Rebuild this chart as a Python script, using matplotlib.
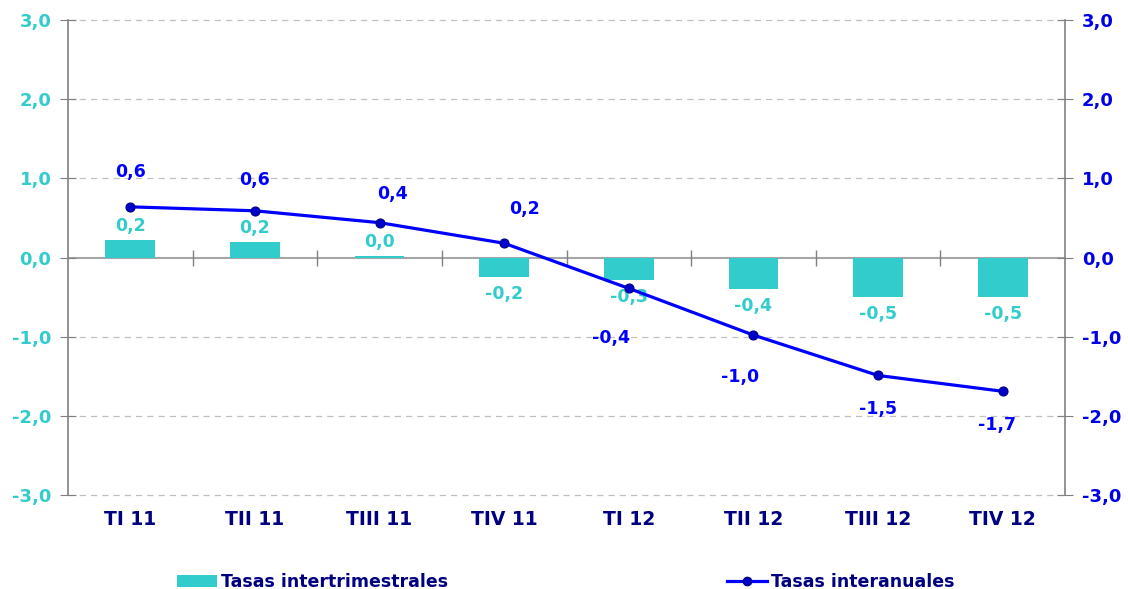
import matplotlib.pyplot as plt
from matplotlib.lines import Line2D
from matplotlib.patches import Patch

# datos
trimestres = ['TI 11', 'TII 11', 'TIII 11', 'TIV 11', 'TI 12', 'TII 12', 'TIII 12', 'TIV 12']
intertrimestrales = [0.22, 0.19, 0.02, -0.24, -0.29, -0.40, -0.50, -0.50]
interanuales = [0.64, 0.59, 0.44, 0.18, -0.39, -0.98, -1.49, -1.69]

TEAL = '#33CCCC'
BLUE = '#0000FF'
NAVY = '#000080'
GRID = '#C0C0C0'
AXC = '#808080'

plt.rcParams['font.family'] = ['DejaVu Sans']
plt.rcParams['font.weight'] = 'bold'

fig = plt.figure(figsize=(11.28, 5.89), dpi=100)
ax = fig.add_axes([68 / 1128, 1 - 495 / 589, (1065 - 68) / 1128, (495 - 20) / 589])
ax2 = ax.twinx()

x = list(range(len(trimestres)))

def fmt(v):
    return f'{v:.1f}'.replace('.', ',')

# rejilla
for t in [-3, -2, -1, 1, 2, 3]:
    ax.axhline(t, color=GRID, linestyle=(0, (5, 4)), linewidth=0.9, zorder=0, clip_on=False)
ax.axhline(0, color='#A6A6A6', linewidth=1.5, zorder=1)
# marcas entre categorias sobre el eje 0
ax.plot([i + 0.5 for i in x[:-1]], [0] * (len(x) - 1), linestyle='none', marker='|',
        markersize=12, color=AXC, markeredgewidth=1, zorder=1)

# barras
ax.bar(x, intertrimestrales, width=0.4, color=TEAL, zorder=2)
for xi, v in zip(x, intertrimestrales):
    off = 14 if v >= 0 else -17
    ax.annotate(fmt(v), (xi, v), xytext=(0, off), textcoords='offset pixels',
                ha='center', va='center', color=TEAL, fontsize=12.5, fontweight='bold')

# linea
ax.plot(x, interanuales, color=BLUE, linewidth=2.3, marker='o', markersize=6.5,
        markerfacecolor='#0000CC', markeredgecolor=NAVY, markeredgewidth=0.8, zorder=3)
line_offsets = [(0, 35), (0, 31), (13, 29), (20, 34), (-18, -50), (-13, -42), (0, -34), (-6, -34)]
for xi, v, (dx, dy) in zip(x, interanuales, line_offsets):
    ax.annotate(fmt(v), (xi, v), xytext=(dx, dy), textcoords='offset pixels',
                ha='center', va='center', color=BLUE, fontsize=12.5, fontweight='bold')

# ejes
ax.set_xlim(-0.5, len(x) - 0.5)
ax.set_ylim(-3, 3)
ax2.set_ylim(-3, 3)
ticks = [-3, -2, -1, 0, 1, 2, 3]
ax.set_yticks(ticks)
ax.set_yticklabels([fmt(t) for t in ticks], color=TEAL, fontsize=13, fontweight='bold')
ax2.set_yticks(ticks)
ax2.set_yticklabels([fmt(t) for t in ticks], color='#0000E6', fontsize=13, fontweight='bold')
ax.set_xticks(x)
ax.set_xticklabels(trimestres, color=NAVY, fontsize=13.5, fontweight='bold')
ax.tick_params(axis='x', length=0, pad=11)
ax.tick_params(axis='y', direction='inout', length=12, color=AXC, pad=6)
ax2.tick_params(axis='y', direction='inout', length=12, color=AXC, pad=6)

for a in (ax, ax2):
    for s in ('top', 'bottom'):
        a.spines[s].set_visible(False)
    a.spines['left'].set_color(AXC)
    a.spines['right'].set_color(AXC)
    a.spines['left'].set_linewidth(1.2)
    a.spines['right'].set_linewidth(1.2)
ax2.spines['left'].set_visible(False)
ax.spines['right'].set_visible(False)

# leyenda
h1 = Patch(facecolor=TEAL, edgecolor='none')
h2 = Line2D([], [], color=BLUE, linewidth=2.3, marker='o', markersize=6,
            markerfacecolor='#0000CC', markeredgecolor=NAVY)
leg1 = fig.legend([h1], ['Tasas intertrimestrales'], loc='center left',
                  bbox_to_anchor=(177 / 1128, 1 - 582 / 589), frameon=False,
                  borderpad=0, borderaxespad=0, handlelength=2.3, handleheight=0.75,
                  handletextpad=0.25, prop={'size': 12.5, 'weight': 'bold'})
leg2 = fig.legend([h2], ['Tasas interanuales'], loc='center left',
                  bbox_to_anchor=(727 / 1128, 1 - 582 / 589), frameon=False,
                  borderpad=0, borderaxespad=0, handlelength=2.3,
                  handletextpad=0.25, prop={'size': 12.5, 'weight': 'bold'})
for lg in (leg1, leg2):
    for t in lg.get_texts():
        t.set_color(NAVY)

fig.savefig('out.png', dpi=100)
